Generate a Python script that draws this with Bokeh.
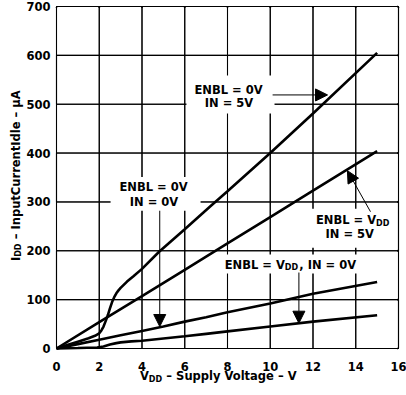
import math
from bokeh.plotting import figure
from bokeh.models import Range1d, FixedTicker, Label, Arrow, NormalHead, BoxAnnotation, LinearAxis
from bokeh.embed import file_html
from bokeh.resources import INLINE

# ---- data ----
vdd_enbl0_in5 = [0, 0.5, 1.0, 1.5, 1.8, 2.0, 2.1, 2.2, 2.3, 2.4, 2.5, 2.6, 2.7, 2.8, 2.9, 3.0,
                 3.3, 3.6, 4.0, 4.8, 6.0, 7.2, 8.0, 10.0, 12.0, 15.0]
idd_enbl0_in5 = [0, 7, 14, 21, 26, 31, 37, 45, 56, 68, 82, 95, 105, 113, 119, 124,
                 137, 148, 163, 198, 244, 291, 322, 400, 481, 605]

vdd_enblvdd_in5 = [0, 2, 4, 6, 8, 10, 12, 15]
idd_enblvdd_in5 = [0, 54, 107, 161, 215, 269, 323, 404]

vdd_enbl0_in0 = [0, 1, 2, 3, 4, 5, 6, 7, 8, 10, 12, 15]
idd_enbl0_in0 = [0, 9, 18, 27, 36, 45, 55, 64, 74, 92, 112, 136]

vdd_enblvdd_in0 = [0, 1.0, 1.9, 2.2, 2.5, 2.8, 3.0, 3.5, 4, 5, 6, 7, 8, 10, 12, 15]
idd_enblvdd_in0 = [0, 1, 2, 4, 8, 11, 12.5, 14.5, 16, 20.5, 25, 30, 35, 45, 55, 68]

x_ticks = [0, 2, 4, 6, 8, 10, 12, 14, 16]
y_ticks = [0, 100, 200, 300, 400, 500, 600, 700]

# ---- layout: chart box position inside the 406x395 canvas ----
W, H = 406, 395
BOX_L, BOX_R, BOX_T, BOX_B = 56, 398, 6, 348
XMIN, XMAX = x_ticks[0], x_ticks[-1]
YMIN, YMAX = y_ticks[0], y_ticks[-1]
px_x = (BOX_R - BOX_L) / (XMAX - XMIN)
px_y = (BOX_B - BOX_T) / (YMAX - YMIN)
x_range = Range1d(XMIN - BOX_L / px_x, XMAX + (W - BOX_R) / px_x)
y_range = Range1d(YMIN - (H - BOX_B) / px_y, YMAX + BOX_T / px_y)

FONT = "DejaVu Sans"
FS = "11.5px"
SUB = "8px"
NB = "\u00a0"

p = figure(width=W, height=H, x_range=x_range, y_range=y_range,
           x_axis_location=None, y_axis_location=None,
           output_backend="svg", toolbar_location=None, min_border=0)
p.background_fill_color = "white"
p.border_fill_color = "white"
p.outline_line_color = None
p.grid.visible = False


def make_axis(ticks, standoff):
    return LinearAxis(fixed_location=0, ticker=FixedTicker(ticks=ticks),
                      axis_line_color=None, major_tick_in=0, major_tick_out=0,
                      minor_tick_line_color=None, major_label_standoff=standoff,
                      major_label_text_font=FONT, major_label_text_font_style="bold",
                      major_label_text_font_size=FS, major_label_text_color="black")


p.add_layout(make_axis(x_ticks, 13), "below")
p.add_layout(make_axis(y_ticks, 6), "left")

# ---- curves ----
LW = 2.6
p.line(vdd_enbl0_in5, idd_enbl0_in5, line_color="black", line_width=LW)
p.line(vdd_enblvdd_in5, idd_enblvdd_in5, line_color="black", line_width=LW)
p.line(vdd_enbl0_in0, idd_enbl0_in0, line_color="black", line_width=LW)
p.line(vdd_enblvdd_in0, idd_enblvdd_in0, line_color="black", line_width=LW)

# ---- grid / chart box from the tick lists: serpentine paths ----
gx_v, gy_v = [], []
for i, t in enumerate(x_ticks):
    ends = (YMIN, YMAX) if i % 2 == 0 else (YMAX, YMIN)
    gx_v += [t, t]
    gy_v += list(ends)
gx_h, gy_h = [], []
for i, t in enumerate(y_ticks):
    ends = (XMIN, XMAX) if i % 2 == 0 else (XMAX, XMIN)
    gx_h += list(ends)
    gy_h += [t, t]
p.line(gx_v, gy_v, line_color="black", line_width=1.1)
p.line(gx_h, gy_h, line_color="black", line_width=1.1)


def grid_line(x0, y0, x1, y1):
    p.add_layout(Arrow(end=NormalHead(size=1, fill_color="black", line_color="black",
                                      line_width=1),
                       x_start=x0, y_start=y0, x_end=x1, y_end=y1,
                       line_color="black", line_width=1))


for t in x_ticks:
    grid_line(t, YMIN, t, YMAX)
for t in y_ticks:
    grid_line(XMIN, t, XMAX, t)

# ---- white boxes behind the annotation texts ----
boxes = [
    (6.08, 10.2, 481, 559),
    (2.53, 6.74, 282, 351),
    (11.65, 15.93, 206, 286),
    (7.44, 14.13, 153.5, 192.4),
]
for l, r, b, t in boxes:
    p.add_layout(BoxAnnotation(left=l, right=r, bottom=b, top=t, fill_color="white",
                               fill_alpha=1, line_color=None))


def lab(x, y, text, align="center", size=FS, **kw):
    p.add_layout(Label(x=x, y=y, text=text, text_align=align, text_baseline="middle",
                       text_font=FONT, text_font_style="bold", text_font_size=size,
                       text_color="black", **kw))


def arrow(x0, y0, x1, y1):
    p.add_layout(Arrow(end=NormalHead(size=12, fill_color="black", line_color="black",
                                      line_width=1),
                       x_start=x0, y_start=y0, x_end=x1, y_end=y1,
                       line_color="black", line_width=1))


SUBDY = 3.0 / px_y      # subscript drop, data units
SUBDX = 3.0 / px_x
DDW = 13.5              # width of subscript "DD" in px

# ENBL = 0V, IN = 5V
lab(8.05, 530, "ENBL = 0V")
lab(8.07, 502, "IN = 5V")
arrow(10.11, 519, 12.68, 519)

# ENBL = 0V, IN = 0V
lab(4.54, 330, "ENBL = 0V")
lab(4.56, 299, "IN = 0V")
arrow(4.83, 282, 4.83, 45)

# ENBL = VDD, IN = 5V
lab(14.95, 262, "ENBL = V", align="right")
lab(14.95, 262 - SUBDY, "DD", align="left", size=SUB)
lab(13.72, 235, "IN = 5V")
arrow(14.69, 280, 13.61, 364)

# ENBL = VDD, IN = 0V
lab(10.68, 171, "ENBL = V", align="right")
lab(10.68, 171 - SUBDY, "DD", align="left", size=SUB)
lab(10.68 + (DDW + 1.0) / px_x, 171, ", IN = 0V", align="left")
arrow(11.34, 155.5, 11.34, 51.8)

# ---- axis titles ----
XL_X, XL_Y = 4.32, -56.9
lab(XL_X, XL_Y, "V", align="right")
lab(XL_X, XL_Y - SUBDY, "DD", align="left", size=SUB)
lab(XL_X + DDW / px_x, XL_Y, NB + "\u2013 Supply Voltage \u2013 V", align="left")

YL_X, YL_Y = -1.895, 187.7
rot = math.pi / 2
lab(YL_X, YL_Y, "I", align="right", angle=rot)
lab(YL_X + SUBDX, YL_Y, "DD", align="left", size=SUB, angle=rot)
lab(YL_X, YL_Y + DDW / px_y, NB + "\u2013 InputCurrentIdle \u2013 \u00b5A", align="left", angle=rot)

open("out.html", "w").write(file_html(p, INLINE))
